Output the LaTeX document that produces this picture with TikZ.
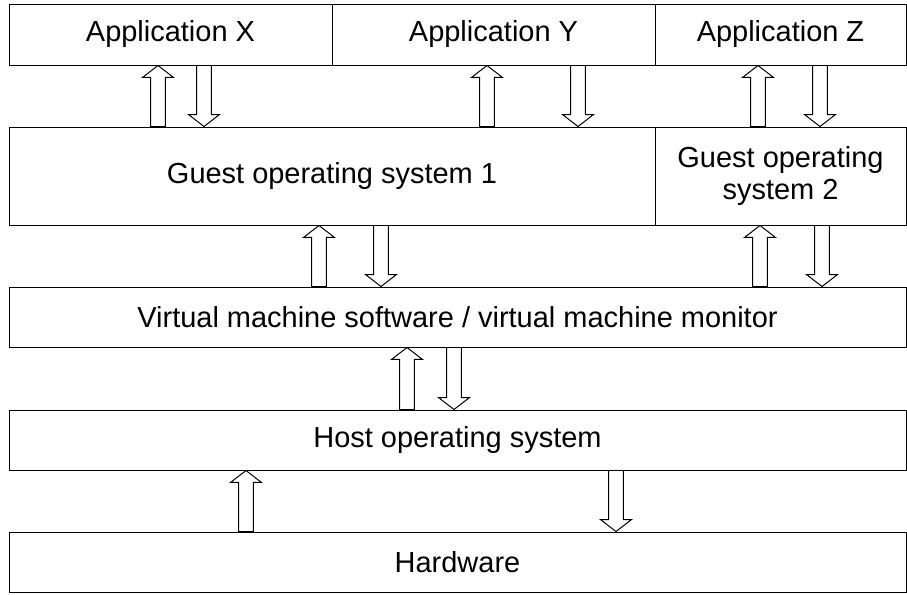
\documentclass[tikz,border=0pt]{standalone}
\usepackage{fontspec}
\setmainfont{Liberation Sans}
\usetikzlibrary{calc}

\tikzset{
  layer/.style 2 args={draw, line width=0.7pt, inner sep=0pt, align=center,
    minimum width=#1*0.025cm, minimum height=#2*0.025cm,
    font=\fontsize{20.6}{22.8}\selectfont},
  % hollow block arrow from start to target (vertical only)
  flow/.style={draw, line width=0.7pt, to path={
    let \p1=(\tikztostart), \p2=(\tikztotarget), \n1={sign(\y2-\y1)*8.5} in
    (\x1-5.3pt,\y1) -- (\x1-5.3pt,\y2-\n1*1pt) -- (\x1-11pt,\y2-\n1*1pt)
    -- (\x2,\y2) -- (\x1+11pt,\y2-\n1*1pt) -- (\x1+5.3pt,\y2-\n1*1pt)
    -- (\x1+5.3pt,\y1) -- cycle}}
}

\begin{document}
\begin{tikzpicture}[x=0.025cm,y=0.025cm]
  \useasboundingbox (0,0) rectangle (907,-594);
  % the layers, top to bottom (y in pixels, downwards)
  \node[layer={323}{61}] (appx) at (170.5,-34.5) {Application X};
  \node[layer={323}{61}] (appy) at (493.5,-34.5) {Application Y};
  \node[layer={251}{61}] (appz) at (780.5,-34.5) {Application Z};
  \node[layer={646}{98}] (guestone) at (332,-176) {Guest operating system 1};
  \node[layer={251}{98}] (guesttwo) at (780.5,-176) {Guest operating\\system 2};
  \node[layer={897}{60}] (vmm) at (457.5,-317) {Virtual machine software / virtual machine monitor};
  \node[layer={897}{60}] (host) at (457.5,-440) {Host operating system};
  \node[layer={897}{60}] (hw) at (457.5,-562) {Hardware};
  %% up and down arrows between the layers
  \foreach \up/\dn/\lo/\hi in {158/204/guestone/appx, 487/578/guestone/appy,
    758/820/guesttwo/appz, 319/381/vmm/guestone, 760/822/vmm/guesttwo,
    407/454/host/vmm, 246/616/hw/host}
  {
    \draw[flow] (\up,0 |- \lo.north) to (\up,0 |- \hi.south);
    \draw[flow] (\dn,0 |- \hi.south) to (\dn,0 |- \lo.north);
  }
\end{tikzpicture}
\end{document}
